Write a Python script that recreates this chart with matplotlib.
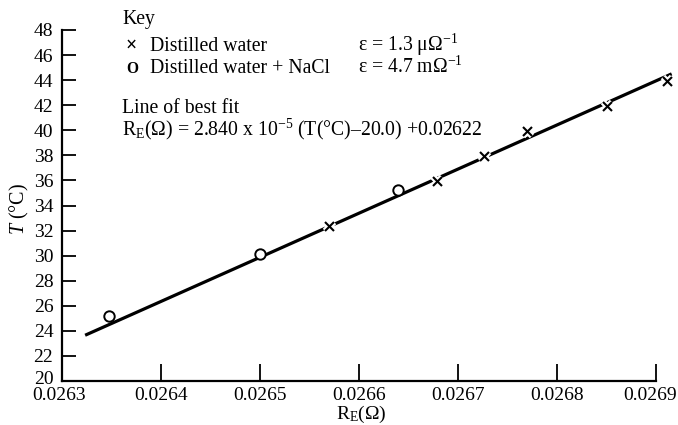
import matplotlib
matplotlib.use("Agg")
import matplotlib.pyplot as plt
import matplotlib.patheffects as pe
import matplotlib.transforms as mtrans
import numpy as np

plt.rcParams["font.family"] = ["Liberation Serif", "DejaVu Serif"]
plt.rcParams["mathtext.fontset"] = "custom"
plt.rcParams["mathtext.rm"] = "Liberation Serif"
plt.rcParams["mathtext.it"] = "Liberation Serif:italic"
plt.rcParams["mathtext.default"] = "regular"

# Distilled water (crosses)
water_R = [0.026570, 0.026679, 0.026727, 0.026770, 0.026851, 0.026912]
water_T = [32.3, 35.9, 37.9, 39.9, 41.9, 43.9]

# Distilled water + NaCl (circles)
nacl_R = [0.026348, 0.026500, 0.026640]
nacl_T = [25.2, 30.1, 35.2]

# Line of best fit: R = slope * (T - T0) + R0
fit_slope = 2.840e-5
fit_T0 = 20.0
fit_R0 = 0.02622
fit_T_range = [23.65, 44.5]

x_ticks = [0.0263, 0.0264, 0.0265, 0.0266, 0.0267, 0.0268, 0.0269]
x_ticklabels = ["0.0263", "0.0264", "0.0265", "0.0266", "0.0267", "0.0268", "0.0269"]
y_ticks = list(range(20, 49, 2))

W, H = 678, 425
fig = plt.figure(figsize=(W / 100, H / 100), dpi=100)
ax = fig.add_axes([61.7 / W, 1 - 381 / H, (656 - 61.7) / W, (381 - 30) / H])

fit_T = np.array(fit_T_range)
fit_R = fit_slope * (fit_T - fit_T0) + fit_R0
ax.plot(fit_R, fit_T, color="black", lw=2.3, solid_capstyle="butt", clip_on=False, zorder=2)

halo = [pe.Stroke(linewidth=4.5, foreground="white"), pe.Normal()]
ax.plot(water_R, water_T, linestyle="none", marker="x", markersize=6.5,
        markeredgewidth=1.5, color="black", clip_on=False, zorder=3,
        path_effects=halo)
ax.plot(nacl_R, nacl_T, linestyle="none", marker="o", markersize=7.5,
        markeredgewidth=1.4, markerfacecolor="white", markeredgecolor="black",
        clip_on=False, zorder=3)

ax.set_xlim(0.0263, 0.0269)
ax.set_ylim(20, 48)
ax.set_xticks(x_ticks)
ax.set_xticklabels(x_ticklabels)
ax.set_yticks(y_ticks)

for side in ("top", "right"):
    ax.spines[side].set_visible(False)
for side in ("left", "bottom"):
    ax.spines[side].set_linewidth(1.6)

ax.tick_params(axis="x", direction="in", length=12, width=1.3, pad=4.5, labelsize=14)
ax.tick_params(axis="y", direction="in", length=10, width=1.3, pad=6, labelsize=14)

# nudge the corner tick labels apart and keep the last one inside the figure
xlabels = ax.get_xticklabels()
xlabels[0].set_transform(xlabels[0].get_transform()
                         + mtrans.ScaledTranslation(-3 / 100, 0, fig.dpi_scale_trans))
xlabels[-1].set_transform(xlabels[-1].get_transform()
                          + mtrans.ScaledTranslation(-6 / 100, 0, fig.dpi_scale_trans))
ylabels = ax.get_yticklabels()
ylabels[0].set_transform(ylabels[0].get_transform()
                         + mtrans.ScaledTranslation(0, 3 / 100, fig.dpi_scale_trans))

ax.set_xlabel(r"R$_\mathrm{E}$(Ω)", fontsize=14)
ax.xaxis.set_label_coords(0.505, -0.064)
ax.xaxis.label.set_va("top")
ax.set_ylabel(r"$\mathit{T}$ (°C)", fontsize=14.5)
ax.yaxis.set_label_coords(-0.052, 0.49)


def fpos(x, y):
    return x / W, 1 - y / H


fs = 14.2
fig.text(*fpos(122, 24), "Key", fontsize=fs, va="baseline")
fig.text(*fpos(126, 51), "×", fontsize=fs, va="baseline", fontweight="bold")
fig.text(*fpos(150, 51), "Distilled water", fontsize=fs, va="baseline")
fig.text(*fpos(358, 51), "ε = 1.3 μΩ$^{-1}$", fontsize=fs, va="baseline")
fig.text(*fpos(126, 73), "O", fontsize=fs - 3, va="baseline", fontweight="bold")
fig.text(*fpos(150, 73), "Distilled water + NaCl", fontsize=fs, va="baseline")
fig.text(*fpos(358, 73), "ε = 4.7 mΩ$^{-1}$", fontsize=fs, va="baseline")
fig.text(*fpos(122, 113), "Line of best fit", fontsize=fs, va="baseline")
fig.text(*fpos(122, 135),
         "R$_\\mathrm{E}$(Ω) = 2.840 x 10$^{-5}$ (T(°C)–20.0) +0.02622",
         fontsize=fs, va="baseline")

fig.savefig("out.png", dpi=100)
